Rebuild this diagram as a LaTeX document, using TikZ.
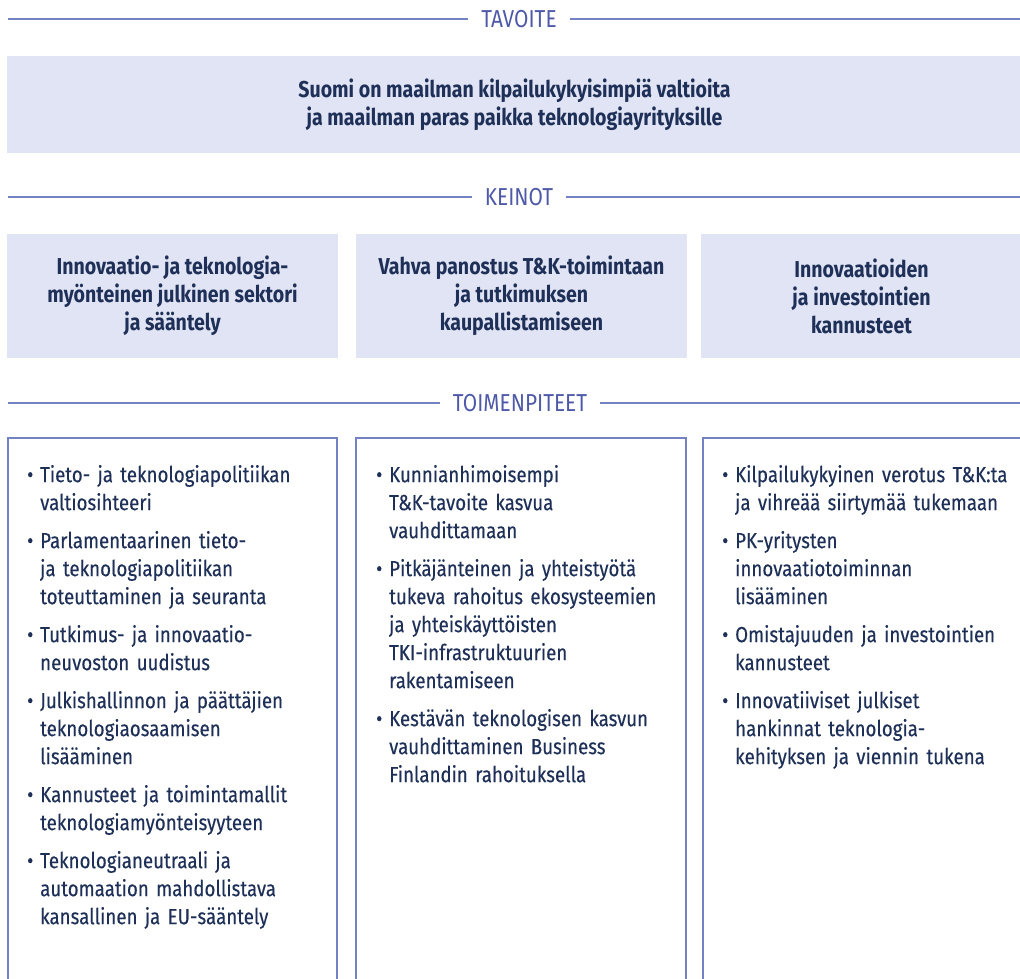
\documentclass[tikz,border=0pt]{standalone}
\usepackage{fontspec}
\setmainfont[FakeStretch=0.85]{Fira Sans}
\newfontfamily\bodyfont[FakeStretch=0.85, FakeBold=0.3]{Fira Sans}
\usetikzlibrary{positioning}

\definecolor{navy}{HTML}{1E3058}
\definecolor{rulecol}{HTML}{7282C2}
\definecolor{labelcol}{HTML}{4E59A8}
\definecolor{pale}{HTML}{E1E4F4}

\newcommand{\kohta}[1]{\par\noindent\makebox[13pt][l]{\textbullet}\begin{tabular}[t]{@{}l@{}}#1\end{tabular}\par}

\tikzset{
  heading/.style={font=\fontsize{24.5}{28}\selectfont, text=labelcol, inner xsep=13pt, inner ysep=0pt},
  rule line/.style={draw=rulecol, line width=1.1pt},
  goalbox/.style={fill=pale, text=navy, font=\bfseries\fontsize{23}{28}\selectfont, align=center, inner sep=0pt},
  listbox/.style={draw=rulecol, line width=1.3pt},
  listtext/.style={text=navy, font=\bodyfont\fontsize{22}{28}\selectfont, text width=300pt, inner sep=0pt, anchor=north west,
    execute at begin node={\setlength{\parskip}{9pt}}},
}

\begin{document}
\begin{tikzpicture}[x=1pt, y=-1pt]
  \useasboundingbox (0,0) rectangle (1020,978);

  % tavoite
  \node[heading] (tavoite) at (519,19) {TAVOITE};
  \coordinate (tavL) at (8,19);
  \coordinate (tavR) at (1022,19);
  \draw[rule line] (tavL) -- (tavoite);
  \draw[rule line] (tavoite) -- (tavR);
  \node[goalbox, minimum width=1015pt, minimum height=97pt] (goal) at (514.5,104.5)
    {Suomi on maailman kilpailukykyisimpiä valtioita\\ja maailman paras paikka teknologiayrityksille};

  % keinot
  \node[heading] (keinot) at (519,197) {KEINOT};
  \coordinate (keiL) at (8,197);
  \coordinate (keiR) at (1022,197);
  \draw[rule line] (keiL) -- (keinot);
  \draw[rule line] (keinot) -- (keiR);
  \node[goalbox, minimum width=331pt, minimum height=124pt] (mean1) at (172.5,296)
    {Innovaatio- ja teknologia-\\myönteinen julkinen sektori\\ja sääntely};
  \node[goalbox, minimum width=331pt, minimum height=124pt] (mean2) at (521.5,296)
    {Vahva panostus T\&K-toimintaan\\ja tutkimuksen\\kaupallistamiseen};
  \node[goalbox, minimum width=321pt, minimum height=124pt] (mean3) at (861.5,296)
    {Innovaatioiden\\ja investointien\\kannusteet};

  % toimenpiteet
  \node[heading] (toimet) at (520,403) {TOIMENPITEET};
  \coordinate (toiL) at (8,403);
  \coordinate (toiR) at (1022,403);
  \draw[rule line] (toiL) -- (toimet);
  \draw[rule line] (toimet) -- (toiR);

  \draw[listbox] (8,985) -- (8,438) -- (337,438) -- (337,985);
  \draw[listbox] (356,985) -- (356,438) -- (686,438) -- (686,985);
  \draw[listbox] (703,985) -- (703,438) -- (1025,438);

  \node[listtext] (acts1) at (27,445) {%
    \kohta{Tieto- ja teknologiapolitiikan\\valtiosihteeri}
    \kohta{Parlamentaarinen tieto-\\ja teknologiapolitiikan\\toteuttaminen ja seuranta}
    \kohta{Tutkimus- ja innovaatio-\\neuvoston uudistus}
    \kohta{Julkishallinnon ja päättäjien\\teknologiaosaamisen\\lisääminen}
    \kohta{Kannusteet ja toimintamallit\\teknologiamyönteisyyteen}
    \kohta{Teknologianeutraali ja\\automaation mahdollistava\\kansallinen ja EU-sääntely}};
  \node[listtext] (acts2) at (376,445) {%
    \kohta{Kunnianhimoisempi\\T\&K-tavoite kasvua\\vauhdittamaan}
    \kohta{Pitkäjänteinen ja yhteistyötä\\tukeva rahoitus ekosysteemien\\ja yhteiskäyttöisten\\TKI-infrastruktuurien\\rakentamiseen}
    \kohta{Kestävän teknologisen kasvun\\vauhdittaminen Business\\Finlandin rahoituksella}};
  \node[listtext] (acts3) at (722,445) {%
    \kohta{Kilpailukykyinen verotus T\&K:ta\\ja vihreää siirtymää tukemaan}
    \kohta{PK-yritysten\\innovaatiotoiminnan\\lisääminen}
    \kohta{Omistajuuden ja investointien\\kannusteet}
    \kohta{Innovatiiviset julkiset\\hankinnat teknologia-\\kehityksen ja viennin tukena}};
\end{tikzpicture}
\end{document}
